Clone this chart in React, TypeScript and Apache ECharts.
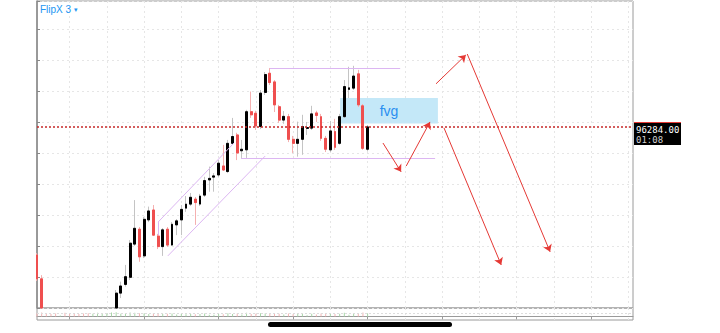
import React, { useEffect, useRef } from "react";
import * as echarts from "echarts";

// x slots (category axis, one per bar position)
const SLOT_COUNT = 129;
const slots = Array.from({ length: SLOT_COUNT }, (_, i) => String(i));

// [open, close, low, high]
const candles: number[][] = [
  [95871, 95794, 95787, 95877], [95794, 95613, 95597, 95806], [95613, 95565, 95555, 95619],
  [95565, 95539, 95526, 95574], [95539, 95513, 95505, 95545], [95516, 95523, 95510, 95530],
  [95523, 95494, 95488, 95528], [95494, 95468, 95460, 95500], [95468, 95448, 95440, 95474],
  [95448, 95429, 95420, 95452], [95429, 95416, 95410, 95435], [95416, 95403, 95395, 95420],
  [95406, 95429, 95400, 95433], [95426, 95452, 95420, 95458], [95452, 95490, 95446, 95495],
  [95490, 95545, 95484, 95550], [95545, 95629, 95540, 95635], [95623, 95748, 95616, 95758],
  [95748, 95771, 95732, 95785], [95776, 95801, 95769, 95839], [95799, 95909, 95790, 95919],
  [95906, 95957, 95900, 96048], [95954, 95865, 95849, 95961], [95868, 95986, 95861, 95994],
  [95984, 96013, 95977, 96027], [96016, 95935, 95932, 96032], [95932, 95898, 95890, 95939],
  [95898, 95952, 95868, 95958], [95954, 95903, 95897, 95961], [95903, 95970, 95900, 95977],
  [95968, 95981, 95935, 95987], [95984, 96018, 95935, 96032], [96022, 96035, 96010, 96061],
  [96035, 96057, 96029, 96071], [96051, 96040, 95968, 96058], [96035, 96061, 96029, 96068],
  [96064, 96111, 96058, 96123], [96113, 96118, 96075, 96156], [96122, 96126, 96075, 96135],
  [96129, 96167, 96123, 96177], [96158, 96145, 96142, 96226], [96140, 96231, 96135, 96242],
  [96231, 96253, 96226, 96313], [96258, 96200, 96177, 96265], [96207, 96212, 96184, 96242],
  [96210, 96333, 96184, 96339], [96333, 96323, 96313, 96398], [96328, 96287, 96274, 96336],
  [96285, 96393, 96277, 96403], [96395, 96453, 96387, 96461], [96457, 96427, 96419, 96474],
  [96429, 96355, 96332, 96435], [96349, 96306, 96297, 96355], [96306, 96318, 96294, 96335],
  [96317, 96244, 96235, 96326], [96244, 96231, 96200, 96255], [96231, 96244, 96188, 96301],
  [96244, 96285, 96194, 96323], [96279, 96282, 96258, 96300], [96280, 96326, 96274, 96352],
  [96329, 96321, 96300, 96336], [96317, 96247, 96239, 96326], [96247, 96212, 96203, 96255],
  [96210, 96271, 96203, 96303], [96269, 96218, 96210, 96310], [96231, 96317, 96226, 96326],
  [96317, 96414, 96313, 96435], [96405, 96410, 96377, 96478], [96409, 96448, 96403, 96481],
  [96455, 96355, 96348, 96468], [96352, 96215, 96210, 96358], [96212, 96284, 96206, 96290],
];

const volumes = [
  1.2, 1.4, 1.0, 0.9, 1.1, 0.4, 1.3, 1.2, 1.0, 0.9, 1.1, 1.2,
  1.0, 1.3, 1.1, 1.2, 1.4, 1.5, 1.0, 1.1, 1.4, 1.3, 1.2, 1.1,
  0.9, 1.2, 1.0, 0.9, 1.0, 1.1, 0.7, 1.0, 0.8, 0.9, 0.8, 0.9,
  1.1, 0.6, 0.6, 1.0, 0.8, 1.2, 0.9, 1.1, 0.7, 1.3, 0.9, 1.0,
  1.2, 1.1, 1.0, 1.2, 1.0, 0.7, 1.1, 0.8, 0.9, 1.0, 0.5, 1.0,
  0.7, 1.1, 0.9, 1.0, 0.9, 1.0, 1.3, 0.6, 1.0, 1.2, 1.4, 1.1,
];

const lastPrice = 96284;
const lastPriceText = "96284.00";
const countdownText = "01:08";
const titleText = "FlipX 3";
const fvgText = "fvg";

const priceMin = 95700;
const priceMax = 96690;
const priceInterval = 100;

// drawings in (slot, price) coordinates
const fvgZone = [[65.1, 96377], [86.1, 96295]];
const purpleLines = [
  [[50.0, 96474], [78.0, 96474]],
  [[43.8, 96184], [85.5, 96184]],
  [[26.0, 95977], [42.3, 96232]],
  [[26.0, 95977], [26.0, 95935]],
  [[28.1, 95868], [49.0, 96190]],
];
const arrows = [
  [[74.3, 96232], [78.2, 96139]],
  [[79.3, 96158], [84.4, 96300]],
  [[85.7, 96423], [92.1, 96516]],
  [[92.4, 96519], [110.2, 95881]],
  [[87.4, 96281], [99.7, 95839]],
];

const UP = "#000000";
const DOWN = "#ef4f4f";
const UP_WICK = "#c4c4c4";
const DOWN_WICK = "#f5b0b0";
const GRIDLINE = "#e6e6e6";
const FRAME = "#9a9a9a";

export default function App() {
  const ref = useRef<HTMLDivElement>(null);
  useEffect(() => {
    const chart = echarts.init(ref.current!, undefined, { renderer: "svg" });
    // clip to the visible price window (candles wholly below it are not drawn)
    const clampRow = (row: number[]) =>
      Math.max(...row) < priceMin ? "-" : row.map((v) => Math.min(priceMax, Math.max(priceMin, v)));
    const shown = candles.map((c) => clampRow(c));
    const bodies = candles.map(([o, c]) => clampRow([o, c, Math.min(o, c), Math.max(o, c)]));
    const splitEvery8 = (i: number) => i >= 7 && (i - 7) % 8 === 0;
    const tickEvery16 = (i: number) => i >= 7 && (i - 7) % 16 === 0;
    chart.setOption({
      animation: false,
      textStyle: { fontFamily: "'Liberation Sans', Arial, sans-serif" },
      grid: [
        { left: 37, right: 87, top: 1, height: 307, show: true, borderColor: FRAME, borderWidth: 1 },
        { left: 37, right: 87, top: 308, height: 12, show: true, borderColor: FRAME, borderWidth: 1 },
      ],
      xAxis: [
        {
          gridIndex: 0, type: "category", data: slots, boundaryGap: false,
          axisLine: { show: false }, axisTick: { show: false }, axisLabel: { show: false },
          splitLine: { show: true, interval: splitEvery8, lineStyle: { color: GRIDLINE, type: [2, 3] } },
        },
        { gridIndex: 0, type: "value", min: 0, max: SLOT_COUNT - 1, show: false },
        {
          gridIndex: 1, type: "category", data: slots, boundaryGap: false,
          axisLine: { show: true, lineStyle: { color: FRAME } },
          axisTick: { show: true, interval: tickEvery16, length: 3, lineStyle: { color: FRAME } },
          axisLabel: { show: false },
          splitLine: { show: true, interval: splitEvery8, lineStyle: { color: GRIDLINE, type: [2, 3] } },
        },
      ],
      yAxis: [
        {
          gridIndex: 0, type: "value", position: "right", min: priceMin, max: priceMax, interval: priceInterval,
          axisLine: { show: true, lineStyle: { color: "#888", width: 1.5 } },
          axisTick: { show: true, length: 3, lineStyle: { color: "#888" } },
          axisLabel: { show: false },
          splitLine: { show: true, lineStyle: { color: GRIDLINE, type: [2, 3] } },
        },
        { gridIndex: 1, type: "value", min: -1.2, max: 3, show: false },
      ],
      series: [
        {
          type: "candlestick", name: "wicks", xAxisIndex: 0, yAxisIndex: 0, data: shown, barWidth: 2.4, z: 2, clip: true,
          itemStyle: { color: UP_WICK, color0: DOWN_WICK, borderColor: UP_WICK, borderColor0: DOWN_WICK, borderWidth: 1 },
        },
        {
          type: "candlestick", name: "bodies", xAxisIndex: 0, yAxisIndex: 0, data: bodies, barWidth: 2.4, z: 3, clip: true,
          itemStyle: { color: UP, color0: DOWN, borderColor: UP, borderColor0: DOWN, borderWidth: 1 },
          markLine: {
            silent: true, symbol: "none", label: { show: false },
            lineStyle: { color: "#c62828", type: [2, 2], width: 1.6 },
            data: [{ yAxis: lastPrice }],
          },
        },
        {
          type: "line", name: "drawings", xAxisIndex: 1, yAxisIndex: 0, data: [], z: 1,
          markArea: {
            silent: true,
            itemStyle: { color: "#c4e8f8" },
            label: { show: true, position: "inside", formatter: fvgText, color: "#2a8ff0", fontSize: 14 },
            data: [[{ coord: fvgZone[0] }, { coord: fvgZone[1] }]],
          },
          markLine: {
            silent: true, symbol: "none", label: { show: false },
            lineStyle: { color: "#dcb6f2", type: "solid", width: 1 },
            data: purpleLines.map(([a, b]) => [{ coord: a }, { coord: b }]),
          },
        },
        {
          type: "line", name: "arrows", xAxisIndex: 1, yAxisIndex: 0, data: [], z: 5,
          markLine: {
            silent: true, symbol: ["none", "arrow"], symbolSize: 7, label: { show: false },
            lineStyle: { color: "#e53935", type: "solid", width: 1 },
            data: arrows.map(([a, b]) => [{ coord: a }, { coord: b }]),
          },
        },
        {
          type: "bar", name: "volume", xAxisIndex: 2, yAxisIndex: 1, barWidth: 1,
          data: volumes.map((v, i) => ({
            value: v,
            itemStyle: { color: candles[i][1] >= candles[i][0] ? "#a8d8a8" : "#f4b4b4" },
          })),
          markLine: {
            silent: true, symbol: "none", label: { show: false },
            lineStyle: { color: "#dddddd", type: [2, 2], width: 1 },
            data: [{ yAxis: 1.2 }],
          },
        },
      ],
    });
    const py = chart.convertToPixel({ yAxisIndex: 0 }, lastPrice) as number;
    const boxTop = Math.round(py) - 5;
    chart.setOption({
      graphic: [
        { id: "t1", type: "text", x: 40, y: 4, style: { text: titleText, fill: "#2196f3", fontSize: 10, fontFamily: "'Liberation Sans', Arial, sans-serif", verticalAlign: "top" } },
        { id: "t2", type: "text", x: 74, y: 6, style: { text: "▾", fill: "#2196f3", fontSize: 7, fontFamily: "'DejaVu Sans', sans-serif", verticalAlign: "top" } },
        { id: "pb", type: "rect", shape: { x: 634, y: boxTop, width: 47, height: 23 }, style: { fill: "#000" } },
        { id: "pl", type: "line", shape: { x1: 634, y1: boxTop + 0.5, x2: 681, y2: boxTop + 0.5 }, style: { stroke: "#e53935", lineWidth: 1 } },
        { id: "pt", type: "text", x: 636, y: boxTop + 3, style: { text: lastPriceText, fill: "#ffffff", fontSize: 9, fontFamily: "'DejaVu Sans Mono', monospace", verticalAlign: "top" } },
        { id: "ct", type: "text", x: 636, y: boxTop + 13, style: { text: countdownText, fill: "#d0d0d0", fontSize: 9, fontFamily: "'DejaVu Sans Mono', monospace", verticalAlign: "top" } },
        { id: "hi", type: "rect", shape: { x: 268, y: 322, width: 184, height: 5, r: 2.5 }, style: { fill: "#000" } },
      ],
    });
    return () => chart.dispose();
  }, []);
  return (
    <div
      ref={ref}
      style={{ position: "fixed", left: 0, top: 0, width: 720, height: 333, background: "#fff" }}
    />
  );
}
